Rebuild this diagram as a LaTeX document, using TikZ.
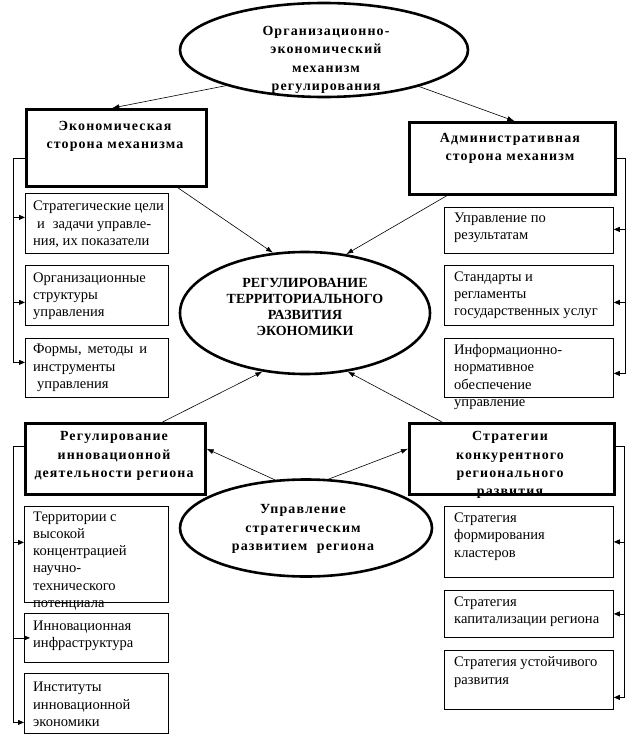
\documentclass[tikz,border=0pt]{standalone}
\usepackage{fontspec}
\setmainfont{Liberation Serif}
\usetikzlibrary{shapes.geometric,arrows.meta}
\begin{document}
\begin{tikzpicture}[x=1bp,y=-1bp,
  thickbox/.style={draw, line width=2.6bp, rectangle, anchor=north west, inner sep=0},
  thinbox/.style={draw, line width=0.8bp, rectangle, anchor=north west, inner sep=0},
  oval/.style={draw, ellipse, line width=2.6bp, inner sep=0},
  txt/.style={inner sep=0, font=\fontsize{14.6}{17.3}\selectfont, align=left, anchor=west},
  btxt/.style={inner sep=0, font=\fontsize{14}{18.3}\selectfont\bfseries\addfontfeature{LetterSpace=8}, align=center},
  ctxt/.style={inner sep=0, font=\fontsize{14}{16}\selectfont\bfseries, align=center},
  arr/.style={-{Latex[length=7bp,width=5bp]}, line width=0.6bp},
  br/.style={line width=0.8bp},
  barr/.style={-{Triangle[length=6bp,width=5bp]}, line width=0.8bp}]
\fill[white] (0,0) rectangle (637,746);
\useasboundingbox (0,0) rectangle (637,746);

% ellipses
\node[oval, minimum width=288bp, minimum height=94bp] (E0) at (324,50) {};
\node[oval, minimum width=250bp, minimum height=122bp] (EC) at (305,313) {};
\node[oval, minimum width=252bp, minimum height=97bp] (E1) at (306,528) {};
\node[btxt] (tE0) at (326,60) {Организационно-\\экономический\\механизм\\регулирования};
\node[ctxt] (tEC) at (305,307) {РЕГУЛИРОВАНИЕ\\ТЕРРИТОРИАЛЬНОГО\\РАЗВИТИЯ\\ЭКОНОМИКИ};
\node[btxt] (tE1) at (303,529) {Управление\\стратегическим\\развитием\hspace{5bp} региона};

% main boxes
\node[thickbox, minimum width=180bp, minimum height=77bp] (B1) at (25,108) {};
\node[thickbox, minimum width=206bp, minimum height=72bp] (B2) at (408,121) {};
\node[thickbox, minimum width=180bp, minimum height=71bp] (B3) at (24,422) {};
\node[thickbox, minimum width=205bp, minimum height=71bp] (B4) at (408,422) {};
\node[btxt] (tB1) at (115,136) {Экономическая\\сторона механизма};
\node[btxt] (tB2) at (510,148) {Административная\\сторона механизм};
\node[btxt] (tB3) at (114,456) {Регулирование\\инновационной\\деятельности региона};
\node[btxt] (tB4) at (510,465) {Стратегии\\конкурентного\\регионального\\развития};

% small boxes left top
\node[thinbox, minimum width=143bp, minimum height=60bp] (L1) at (25,193) {};
\node[thinbox, minimum width=143bp, minimum height=60bp] (L2) at (25,265) {};
\node[thinbox, minimum width=143bp, minimum height=59bp] (L3) at (25,338) {};
\node[txt] (tL1) at (33,224.5) {Стратегические цели\\\hspace*{4bp}и\hspace{8bp}задачи управле-\\ния, их показатели};
\node[txt] (tL2) at (33,296.5) {Организационные\\структуры\\управления};
\node[txt] (tL3) at (33,368) {Формы,\hspace{6bp}методы\hspace{6bp}и\\инструменты\\\hspace*{4bp}управления};

% small boxes right top
\node[thinbox, minimum width=169bp, minimum height=46bp] (R1) at (444,207) {};
\node[thinbox, minimum width=169bp, minimum height=60bp] (R2) at (444,265) {};
\node[thinbox, minimum width=169bp, minimum height=59bp] (R3) at (444,338) {};
\node[txt] (tR1) at (454,228) {Управление по\\результатам};
\node[txt] (tR2) at (454,295.5) {Стандарты и\\регламенты\\государственных услуг};
\node[txt] (tR3) at (454,377) {Информационно-\\нормативное\\обеспечение\\управление};

% small boxes left bottom
\node[thinbox, minimum width=144bp, minimum height=96bp] (BL1) at (24,506) {};
\node[thinbox, minimum width=144bp, minimum height=49bp] (BL2) at (24,613) {};
\node[thinbox, minimum width=144bp, minimum height=60bp] (BL3) at (24,673) {};
\node[txt] (tBL1) at (33,561) {Территории с\\высокой\\концентрацией\\научно-\\технического\\потенциала};
\node[txt] (tBL2) at (33,635.5) {Инновационная\\инфраструктура};
\node[txt] (tBL3) at (33,704.5) {Институты\\инновационной\\экономики};

% small boxes right bottom
\node[thinbox, minimum width=169bp, minimum height=71bp] (BR1) at (444,506) {};
\node[thinbox, minimum width=169bp, minimum height=47bp] (BR2) at (444,590) {};
\node[thinbox, minimum width=169bp, minimum height=59bp] (BR3) at (444,650) {};
\node[txt] (tBR1) at (454,536.5) {Стратегия\\формирования\\кластеров};
\node[txt] (tBR2) at (454,611.5) {Стратегия\\капитализации региона};
\node[txt] (tBR3) at (454,672) {Стратегия устойчивого\\развития};

% arrows between main elements
\draw[arr] (E0.200) -- ([xshift=-4bp]B1.north);
\draw[arr] (E0.339) -- ([xshift=2bp]B2.north);
\draw[arr] ([xshift=-30bp]B1.south east) -- (EC.118);
\draw[arr] ([xshift=39bp]B2.south west) -- (EC.55);
\draw[arr] ([xshift=-44bp]B3.north east) -- (EC.234);
\draw[arr] ([xshift=34bp]B4.north west) -- (EC.306);
\draw[arr] (E1.123) -- ([yshift=10bp]B3.east);
\draw[arr] (E1.65) -- ([yshift=10bp]B4.west);

% brackets
\draw[br] ([yshift=-10.5bp]B1.west) -| ([xshift=-12bp,yshift=5.5bp]L3.west);
\draw[barr] ([xshift=-12bp,yshift=6bp]L1.west) -- ([yshift=6bp]L1.west);
\draw[barr] ([xshift=-12bp,yshift=-7bp]L2.west) -- ([yshift=-7bp]L2.west);
\draw[barr] ([xshift=-12bp,yshift=5.5bp]L3.west) -- ([yshift=5.5bp]L3.west);

\draw[br] (B2.east) -| ([xshift=12bp,yshift=-5.5bp]R3.east);
\draw[barr] ([xshift=12bp,yshift=1bp]R1.east) -- ([yshift=1bp]R1.east);
\draw[barr] ([xshift=12bp,yshift=-7bp]R2.east) -- ([yshift=-7bp]R2.east);
\draw[barr] ([xshift=12bp,yshift=-5.5bp]R3.east) -- ([yshift=-5.5bp]R3.east);

\draw[br] ([yshift=12.5bp]B3.west) -| ([xshift=-11bp,yshift=-19bp]BL3.west);
\draw[barr] ([xshift=-11bp,yshift=12bp]BL1.west) -- ([yshift=12bp]BL1.west);
\draw[barr] ([xshift=-11bp]BL2.west) -- ([xshift=6bp]BL2.west);
\draw[barr] ([xshift=-11bp,yshift=-19bp]BL3.west) -- ([yshift=-19bp]BL3.west);

\draw[br] ([yshift=12.5bp]B4.east) -| ([xshift=11bp,yshift=-17.5bp]BR3.east);
\draw[barr] ([xshift=11bp]BR1.east) -- (BR1.east);
\draw[barr] ([xshift=11bp]BR2.east) -- (BR2.east);
\draw[barr] ([xshift=11bp,yshift=-17.5bp]BR3.east) -- ([yshift=-17.5bp]BR3.east);
\end{tikzpicture}
\end{document}
